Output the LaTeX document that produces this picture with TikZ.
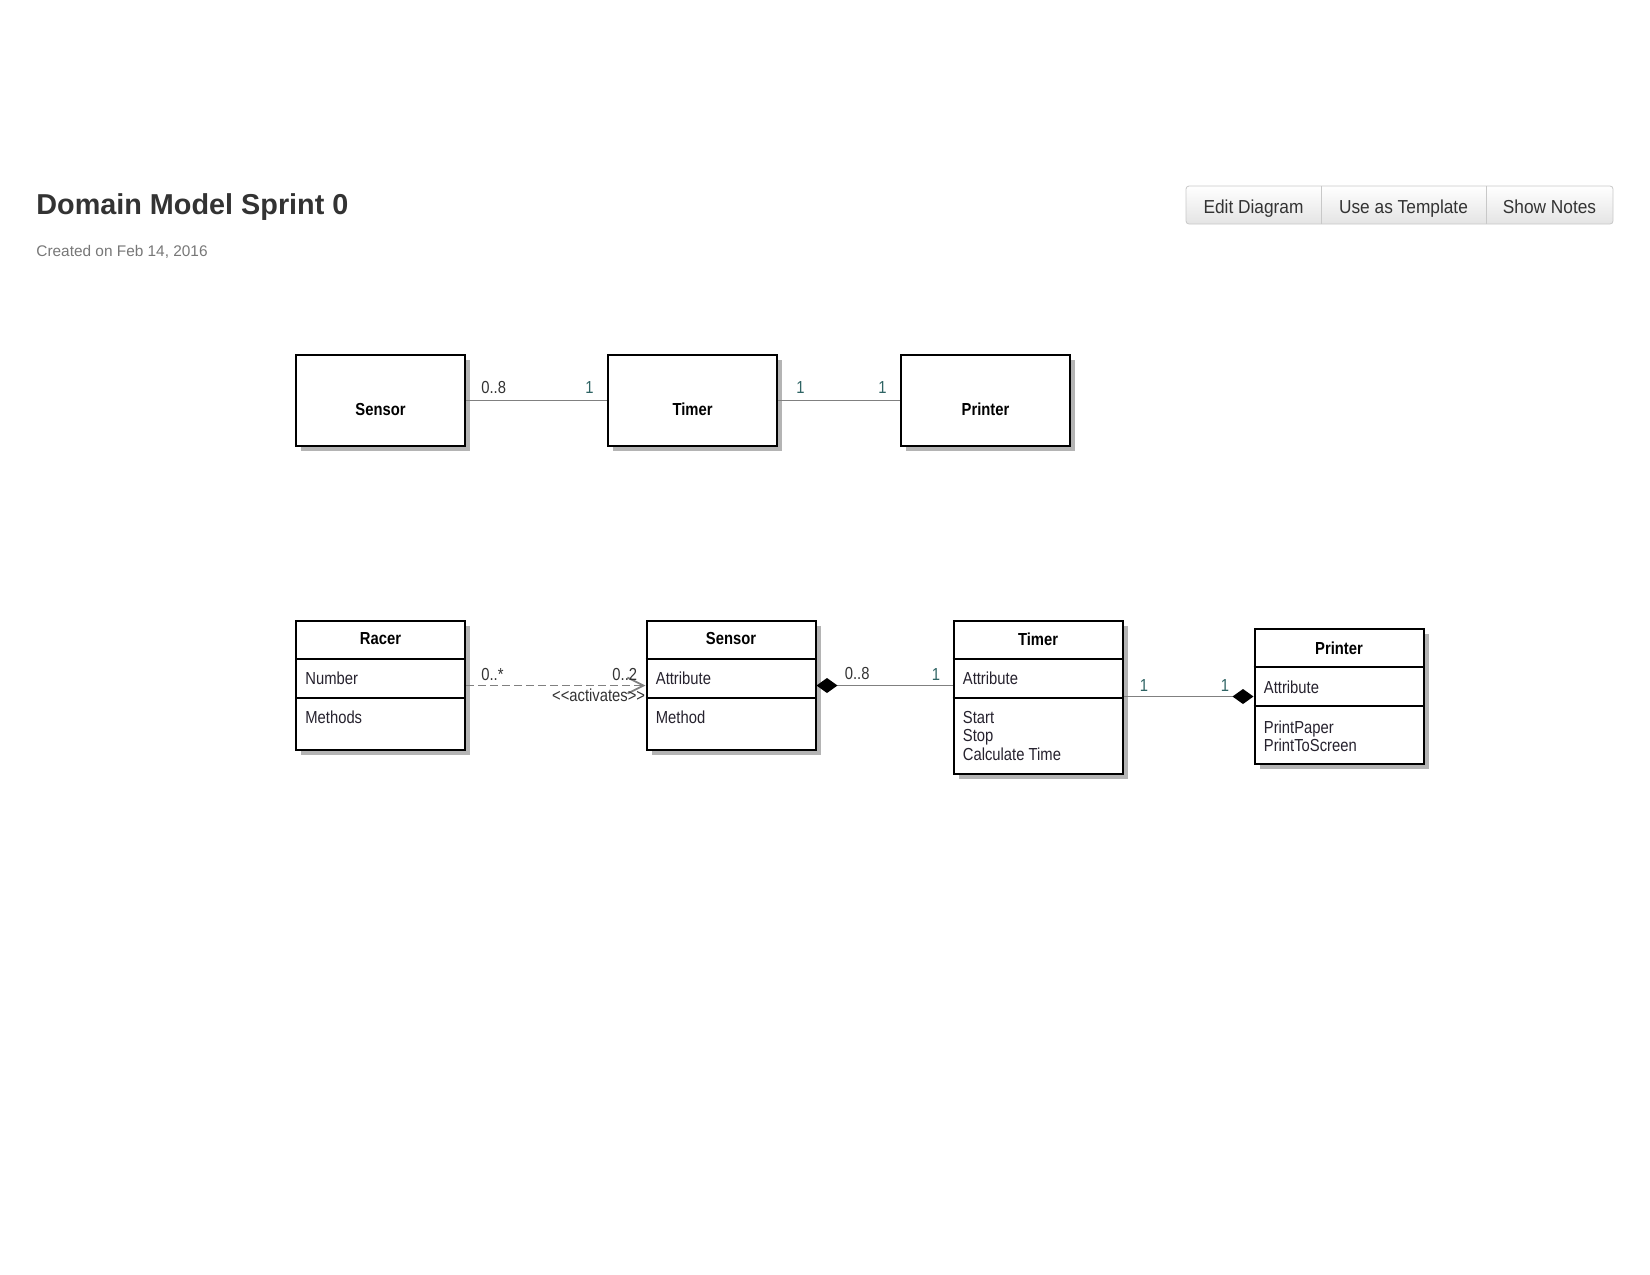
\documentclass[tikz,border=0pt]{standalone}
\usepackage{fontspec}
\setmainfont{Liberation Sans}
\newfontfamily\umlfont[FakeStretch=0.85]{Liberation Sans}
\newfontfamily\btnfont[FakeStretch=0.92]{Liberation Sans}
\usetikzlibrary{arrows.meta,positioning,calc,shadows,backgrounds}
\definecolor{titlegray}{HTML}{333333}
\definecolor{subgray}{HTML}{777777}
\definecolor{linegray}{HTML}{808080}
\definecolor{shadowgray}{HTML}{B4B4B4}
\definecolor{btnborder}{HTML}{C8C8C8}
\definecolor{btnbottom}{HTML}{E4E4E4}
\definecolor{multteal}{HTML}{2F6464}
\definecolor{membertext}{HTML}{26222E}

\begin{document}
\begin{tikzpicture}[x=0.5pt, y=-0.5pt,
  classbox/.style={draw, line width=1pt, fill=white, minimum width=84.5pt, minimum height=#1, inner sep=0pt,
    drop shadow={shadow xshift=2.5pt, shadow yshift=-2.5pt, fill=shadowgray, opacity=1}},
  classname/.style={font=\umlfont\bfseries\fontsize{8.7}{9.2}\selectfont, inner sep=0pt},
  member/.style={font=\umlfont\fontsize{8.7}{9.2}\selectfont, text=membertext, inner sep=0pt, align=left},
  mult/.style={font=\umlfont\fontsize{8.7}{9.2}\selectfont, inner sep=0pt, text=#1},
  mult/.default=titlegray,
  assoc/.style={draw=linegray, line width=0.9pt},
  depend/.style={draw=linegray, line width=0.9pt, dash pattern=on 4pt off 2pt, -{Straight Barb[length=8pt,width=8pt]}},
  compose/.tip={Diamond[length=10.5pt,width=7.5pt,color=black,fill=black]},
  button/.style={minimum height=19pt, minimum width=#1, inner sep=0pt, outer sep=0pt,
    text height=8pt, text depth=0pt, font=\btnfont\fontsize{9.4}{11}\selectfont, text=titlegray},
]
  \useasboundingbox (0,0) rectangle (1650,1275);

  \node[anchor=base west, inner sep=0pt, font=\bfseries\fontsize{14.4}{17}\selectfont, text=titlegray] (title) at (36,214) {Domain Model Sprint 0};
  \node[anchor=base west, inner sep=0pt, font=\fontsize{7.7}{9}\selectfont, text=subgray] (created) at (36,256) {Created on Feb 14, 2016};

  \node[button=67.5pt]                           (btnEdit)     at (1253.5,205) {Edit Diagram};
  \node[button=82.5pt, right=0pt of btnEdit]     (btnTemplate) {Use as Template};
  \node[button=63.5pt, right=0pt of btnTemplate] (btnNotes)    {Show Notes};
  \begin{scope}[on background layer]
    \shade[top color=white, bottom color=btnbottom, draw=btnborder, rounded corners=1.5pt]
      (btnEdit.north west) rectangle (btnNotes.south east);
    \draw[btnborder] (btnEdit.north east) -- (btnEdit.south east);
    \draw[btnborder] (btnTemplate.north east) -- (btnTemplate.south east);
  \end{scope}

  % first sketch
  \node[classbox=45.5pt]                         (sensorA)  at (380.5,400.5) {};
  \node[classbox=45.5pt, right=70.5pt of sensorA] (timerA)   {};
  \node[classbox=45.5pt, right=61pt of timerA]    (printerA) {};
  \node[classname] (sensorAName)  at ($(sensorA)+(0,9)$)  {Sensor};
  \node[classname] (timerAName)   at ($(timerA)+(0,9)$)   {Timer};
  \node[classname] (printerAName) at ($(printerA)+(0,9)$) {Printer};

  \draw[assoc] (sensorA) -- (timerA);
  \draw[assoc] (timerA) -- (printerA);
  \node[mult, above right=3.25pt and 7.5pt of sensorA.east]       (sensorAMult)   {0..8};
  \node[mult=multteal, above left=3.25pt and 6.5pt of timerA.west] (timerAMultL)   {1};
  \node[mult=multteal, above right=3.25pt and 9pt of timerA.east]  (timerAMultR)   {1};
  \node[mult=multteal, above left=3.25pt and 6.5pt of printerA.west] (printerAMult) {1};

  % class diagram
  \node[classbox=64.5pt] (racer)    at (380.5,685.5) {};
  \node[classbox=64.5pt] (sensorB)  at (731,685.5)   {};
  \node[classbox=76.5pt] (timerB)   at (1038,697.5)  {};
  \node[classbox=67.5pt] (printerB) at (1339,696.5)  {};

  \foreach \c in {racer,sensorB,timerB,printerB}
    \foreach \d in {39,78}
      \draw[line width=1pt] ($(\c.north west)+(0,\d)$) -- ($(\c.north east)+(0,\d)$);

  \node[classname] (racerName) at ($(racer.north)+(0,19)$) {Racer};
  \node[member, anchor=west] (racerAttr) at ($(racer.north west)+(10,58)$) {Number};
  \node[member, anchor=west] (racerOps)  at ($(racer.north west)+(10,97)$) {Methods};

  \node[classname] (sensorBName) at ($(sensorB.north)+(0,19)$) {Sensor};
  \node[member, anchor=west] (sensorBAttr) at ($(sensorB.north west)+(10,58)$) {Attribute};
  \node[member, anchor=west] (sensorBOps)  at ($(sensorB.north west)+(10,97)$) {Method};

  \node[classname] (timerBName) at ($(timerB.north)+(0,19)$) {Timer};
  \node[member, anchor=west] (timerBAttr) at ($(timerB.north west)+(10,58)$) {Attribute};
  \node[member, anchor=north west] (timerBOps) at ($(timerB.north west)+(10,91)$) {Start\\Stop\\Calculate Time};

  \node[classname] (printerBName) at ($(printerB.north)+(0,20)$) {Printer};
  \node[member, anchor=west] (printerBAttr) at ($(printerB.north west)+(10,59)$) {Attribute};
  \node[member, anchor=north west] (printerBOps) at ($(printerB.north west)+(10,92)$) {PrintPaper\\PrintToScreen};

  \draw[depend] (racer) -- (sensorB);
  \node[mult, above right=2.25pt and 7.5pt of racer.east]  (racerMult)    {0..*};
  \node[mult, above left=2.25pt and 4pt of sensorB.west]   (sensorBMultL) {0..2};
  \node[mult, below left=1.5pt and 0pt of sensorB.west] (activates) {{<}{<}activates{>}{>}};

  \coordinate (stEnd) at (sensorB.east -| timerB.west);
  \draw[assoc, compose-] (sensorB.east) -- (stEnd);
  \node[mult, above right=2.5pt and 14pt of sensorB.east] (sensorBMultR) {0..8};
  \node[mult=multteal, above left=2.5pt and 6pt of stEnd]  (timerBMultL)  {1};

  \coordinate (tpStart) at (timerB.east |- printerB.west);
  \draw[assoc, -compose] (tpStart) -- (printerB.west);
  \node[mult=multteal, above right=2.25pt and 8pt of tpStart]      (timerBMultR)  {1};
  \node[mult=multteal, above left=2.25pt and 12pt of printerB.west] (printerBMult) {1};
\end{tikzpicture}
\end{document}
